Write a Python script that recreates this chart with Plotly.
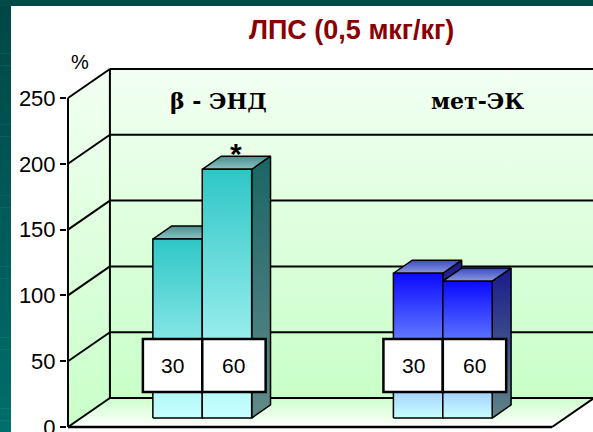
import plotly.graph_objects as go

# ---- data -------------------------------------------------------------
title_text = "ЛПС (0,5 мкг/кг)"
group_names = ["β - ЭНД", "мет-ЭК"]
dose_labels = ["30", "60"]
beta_end = [136, 189]      # % , β-endorphin, doses 30 / 60
met_ek = [110, 104]        # % , met-enkephalin, doses 30 / 60
significant = [[False, True], [False, False]]
y_ticks = [0, 50, 100, 150, 200, 250]
y_unit = "%"

series = [beta_end, met_ek]

# ---- geometry / style ---------------------------------------------------
W, H = 593, 432
ML, MT = 67, 58
X_RANGE = [-1, 526]
Y_RANGE = [-3.8, 280.4]
PPU = (H - MT) / (Y_RANGE[1] - Y_RANGE[0])   # pixels per value unit

DX = 42.0                 # depth offset along x (axis units = px)
DY = 29.0 / PPU           # depth offset along y (value units)
Y_TOP = y_ticks[-1]
FLOOR_W = 485
WALL_R = 540

GROUP_X0 = 72             # floor x of first bar of first group
GROUP_GAP = 241
BAR_W = 49.5
D0, D1 = 0.31, 0.76       # bar depth span (fraction of floor depth)
CAPTION_X = [151, 410]    # centres of the group captions on the back wall

FACE_STYLES = [
    dict(front=[[0, "#c8ffff"], [1, "#2fc6c6"]],
         top=[[0, "#8cc4c4"], [1, "#4b8e8e"]],
         side=[[0, "#628a8a"], [1, "#1b6565"]]),
    dict(front=[[0, "#c8ffff"], [1, "#0a0aff"]],
         top=[[0, "#8c9ad8"], [1, "#3a4ac8"]],
         side=[[0, "#5f8585"], [1, "#1a1a8c"]]),
]
WALL_SCALE = [[0, "#c8ffc8"], [1, "#f2fff2"]]
FLOOR_SCALE = [[0, "#ffffff"], [1, "#ccffcc"]]


def proj(x, v, d):
    return x + d * DX, v + d * DY


def polygon(pts, scale, lw=1.5, lc="black"):
    xs = [p[0] for p in pts] + [pts[0][0]]
    ys = [p[1] for p in pts] + [pts[0][1]]
    return go.Scatter(
        x=xs, y=ys, mode="lines", fill="toself",
        fillgradient=dict(type="vertical", colorscale=scale),
        line=dict(color=lc, width=lw),
        hoverinfo="skip", showlegend=False)


def segment(p, q, lw=2, color="black"):
    return go.Scatter(x=[p[0], q[0]], y=[p[1], q[1]], mode="lines",
                      line=dict(color=color, width=lw),
                      hoverinfo="skip", showlegend=False)


fig = go.Figure()

# walls and floor
fig.add_trace(polygon([proj(0, 0, 0), proj(FLOOR_W, 0, 0),
                       proj(FLOOR_W, 0, 1), proj(0, 0, 1)], FLOOR_SCALE, lw=0))
fig.add_trace(polygon([proj(0, 0, 0), proj(0, 0, 1),
                       proj(0, Y_TOP, 1), proj(0, Y_TOP, 0)], WALL_SCALE, lw=0))
fig.add_trace(polygon([proj(0, 0, 1), proj(WALL_R, 0, 1),
                       proj(WALL_R, Y_TOP, 1), proj(0, Y_TOP, 1)], WALL_SCALE, lw=0))

# gridlines on side wall and back wall
for v in y_ticks:
    fig.add_trace(segment(proj(0, v, 0), proj(0, v, 1)))
    fig.add_trace(segment(proj(0, v, 1), proj(WALL_R, v, 1)))
fig.add_trace(segment(proj(0, 0, 1), proj(0, Y_TOP, 1)))
fig.add_trace(segment(proj(0, 0, 0), proj(0, Y_TOP, 0)))
fig.add_trace(segment(proj(0, 0, 0), proj(FLOOR_W, 0, 0), lw=2.5))
fig.add_trace(segment(proj(FLOOR_W, 0, 0), proj(FLOOR_W, 0, 1)))

# 3D columns
shapes = []
annotations = []
for g, values in enumerate(series):
    st = FACE_STYLES[g]
    for j, v in enumerate(values):
        x0 = GROUP_X0 + g * GROUP_GAP + j * BAR_W
        x1 = x0 + BAR_W
        fbl, fbr = proj(x0, 0, D0), proj(x1, 0, D0)
        ftl, ftr = proj(x0, v, D0), proj(x1, v, D0)
        btl, btr = proj(x0, v, D1), proj(x1, v, D1)
        bbr = proj(x1, 0, D1)
        fig.add_trace(polygon([fbr, ftr, btr, bbr], st["side"], lw=1.5))
        fig.add_trace(polygon([ftl, ftr, btr, btl], st["top"], lw=1.5))
        fig.add_trace(polygon([fbl, fbr, ftr, ftl], st["front"], lw=1.5))

        # dose label boxes in front of the columns
        if j == 0:
            bx0, bx1 = fbl[0] - 10, fbr[0]
        else:
            bx0, bx1 = fbl[0], fbr[0] + 14
        by0, by1 = 26.6, 66.9
        shapes.append(dict(type="rect", xref="x", yref="y", x0=bx0, x1=bx1,
                           y0=by0, y1=by1, fillcolor="white",
                           line=dict(color="black", width=2.5), layer="above"))
        annotations.append(dict(x=(bx0 + bx1) / 2, y=(by0 + by1) / 2,
                                xref="x", yref="y", text=dose_labels[j],
                                showarrow=False,
                                xanchor="center", yanchor="middle",
                                font=dict(family="Liberation Sans, Arial",
                                          size=21, color="black")))
        if significant[g][j]:
            cx = (ftl[0] + btr[0]) / 2
            annotations.append(dict(x=cx, y=v + D1 * DY, xref="x", yref="y",
                                    text="<b>*</b>", showarrow=False,
                                    xanchor="center", yanchor="middle",
                                    yshift=3,
                                    font=dict(family="Liberation Sans, Arial",
                                              size=30, color="black")))

    # group caption on the back wall
    annotations.append(dict(x=CAPTION_X[g], y=Y_TOP + DY, xref="x", yref="y",
                            text="<b>%s</b>" % group_names[g], showarrow=False,
                            xanchor="center", yanchor="middle", yshift=-32,
                            font=dict(family="DejaVu Serif", size=22,
                                      color="black")))


def px_x(p):
    return (p - ML) / (W - ML)


def px_y(p):
    return (H - p) / (H - MT)


# frame
shapes.append(dict(type="rect", xref="paper", yref="paper",
                   x0=px_x(0), x1=px_x(W), y0=px_y(6), y1=px_y(0),
                   fillcolor="#004a4a", line=dict(width=0), layer="below"))
n_steps = 36
for i in range(n_steps):
    t = i / (n_steps - 1)
    gg, b = int(72 + t * (110 - 72)), int(72 + t * (108 - 72))
    y_a = 6 + i * (H - 6) / n_steps
    y_b = 6 + (i + 1) * (H - 6) / n_steps + 0.5
    shapes.append(dict(type="rect", xref="paper", yref="paper",
                       x0=px_x(0), x1=px_x(11), y0=px_y(y_b), y1=px_y(y_a),
                       fillcolor="rgb(0,%d,%d)" % (gg, b),
                       line=dict(width=0), layer="below"))

annotations.append(dict(xref="paper", yref="paper", x=px_x(351), y=px_y(30),
                        xanchor="center", yanchor="middle",
                        text="<b>%s</b>" % title_text, showarrow=False,
                        font=dict(family="Liberation Sans, Arial", size=27,
                                  color="#8b0000")))
annotations.append(dict(xref="paper", yref="paper", x=px_x(80), y=px_y(62),
                        xanchor="center", yanchor="middle",
                        text=y_unit, showarrow=False,
                        font=dict(family="Liberation Sans, Arial", size=20,
                                  color="black")))

fig.update_layout(
    width=W, height=H,
    margin=dict(l=ML, r=0, t=MT, b=0, pad=0, autoexpand=False),
    paper_bgcolor="white", plot_bgcolor="white",
    shapes=shapes, annotations=annotations,
    xaxis=dict(range=X_RANGE, visible=False, fixedrange=True,
               automargin=False),
    yaxis=dict(range=Y_RANGE, tickvals=y_ticks, showgrid=False,
               zeroline=False, showline=False, ticks="outside",
               ticklen=6, tickwidth=2, tickcolor="black",
               ticklabeloverflow="allow", automargin=False,
               tickfont=dict(family="Liberation Sans, Arial", size=22,
                             color="black"),
               fixedrange=True),
    showlegend=False,
)

fig.write_html("out.html")
